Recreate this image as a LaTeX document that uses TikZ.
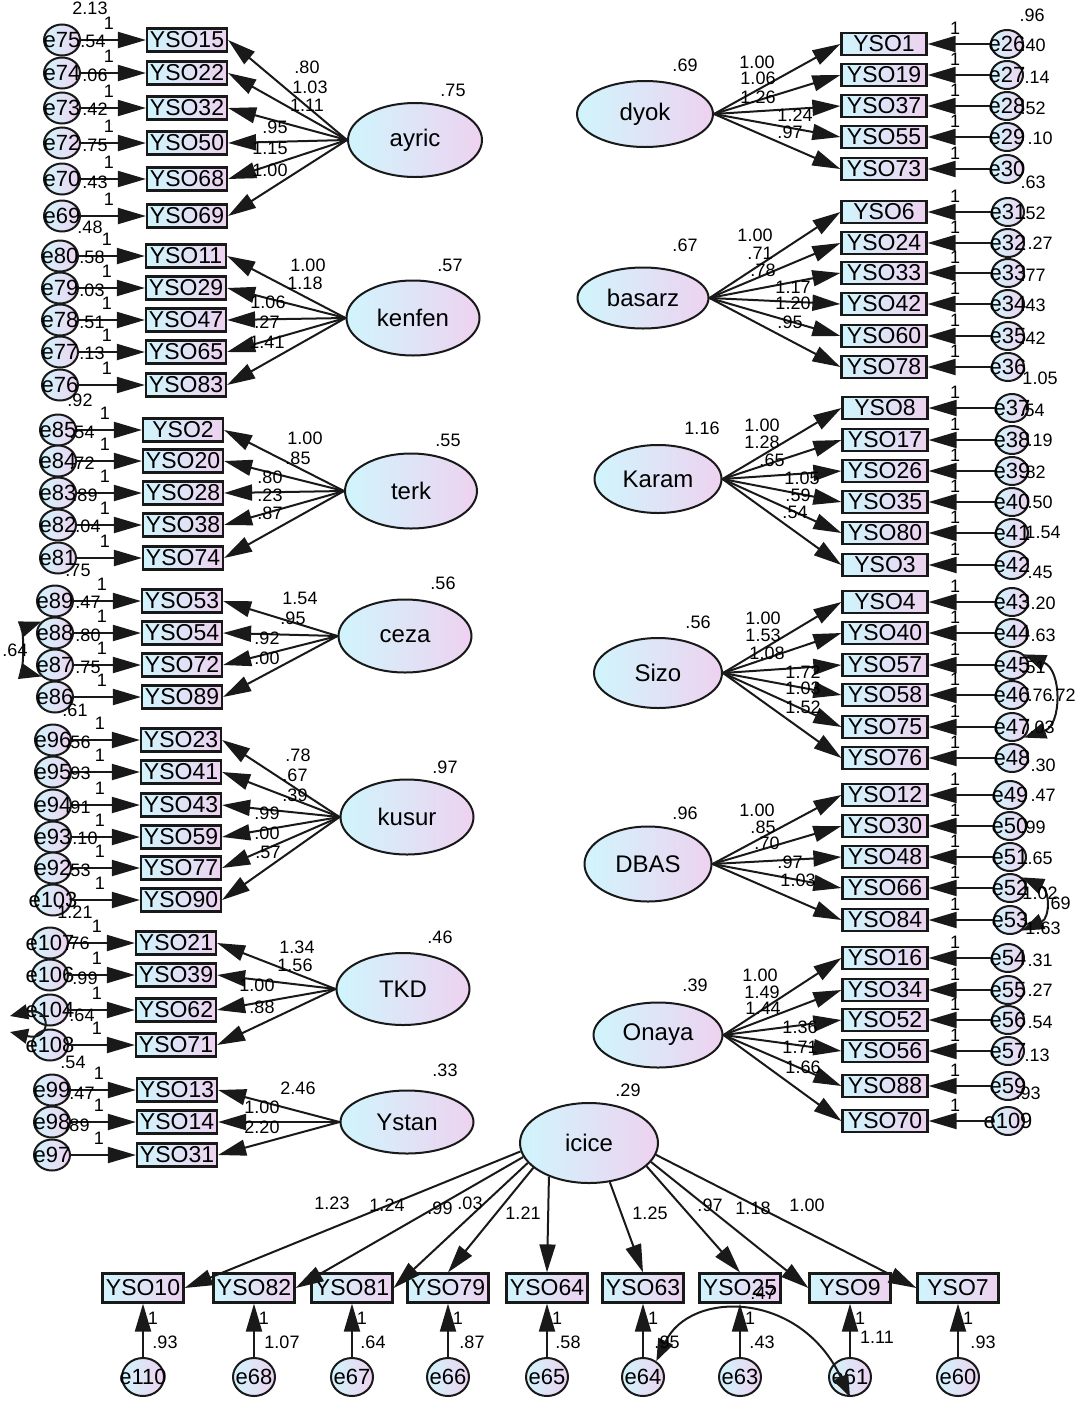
\documentclass[tikz,border=0pt]{standalone}
\usepackage{fontspec}
\setmainfont{Liberation Sans}
\usetikzlibrary{arrows.meta,shapes.geometric}

\definecolor{amoscyan}{RGB}{208,245,252}
\definecolor{amospink}{RGB}{238,210,240}
\definecolor{amosline}{RGB}{25,25,25}

\tikzset{
  obs/.style={draw=amosline, line width=2.2pt, left color=amoscyan, right color=amospink,
    minimum width=80pt, minimum height=23pt, inner sep=0pt, font=\fontsize{23}{23}\selectfont},
  lat/.style={ellipse, draw=amosline, line width=2pt, left color=amoscyan, right color=amospink,
    inner sep=0pt, font=\fontsize{24}{24}\selectfont},
  err/.style={ellipse, draw=amosline, line width=2pt, left color=amoscyan, right color=amospink,
    inner sep=0pt, minimum width=36pt, minimum height=31pt},
  etxt/.style={font=\fontsize{22}{22}\selectfont, inner sep=0pt},
  num/.style={font=\fontsize{18}{18}\selectfont, inner sep=0pt},
  load/.style={draw=amosline, line width=2pt, -{Triangle[length=28pt,width=16pt]}},
  cov/.style={draw=amosline, line width=2pt, {Triangle[length=22pt,width=16pt]}-{Triangle[length=22pt,width=16pt]}},
}

\begin{document}
\begin{tikzpicture}[x=1pt,y=-1pt]
	\useasboundingbox (0,0) rectangle (1086,1403);
	
	% latent variables
	\node[lat, minimum width=134pt, minimum height=74pt] (ayric)  at (415,140)  {ayric};
	\node[lat, minimum width=133pt, minimum height=75pt] (kenfen) at (413,318)  {kenfen};
	\node[lat, minimum width=132pt, minimum height=75pt] (terk)   at (411,491)  {terk};
	\node[lat, minimum width=133pt, minimum height=73pt] (ceza)   at (405,636)  {ceza};
	\node[lat, minimum width=133pt, minimum height=75pt] (kusur)  at (407,817)  {kusur};
	\node[lat, minimum width=133pt, minimum height=72pt] (TKD)    at (403,989)  {TKD};
	\node[lat, minimum width=133pt, minimum height=63pt] (Ystan)  at (407,1122) {Ystan};
	\node[lat, minimum width=136pt, minimum height=66pt] (dyok)   at (645,114)  {dyok};
	\node[lat, minimum width=131pt, minimum height=61pt] (basarz) at (643,298)  {basarz};
	\node[lat, minimum width=127pt, minimum height=68pt] (Karam)  at (658,479)  {Karam};
	\node[lat, minimum width=128pt, minimum height=70pt] (Sizo)   at (658,673)  {Sizo};
	\node[lat, minimum width=127pt, minimum height=75pt] (DBAS)   at (648,864)  {DBAS};
	\node[lat, minimum width=129pt, minimum height=65pt] (Onaya)  at (658,1035) {Onaya};
	\node[lat, minimum width=138pt, minimum height=80pt] (icice)  at (589,1143) {icice};
	
	% left column: latent -> item <- error
	\foreach \lat/\bx/\ex/\rows in {
		ayric/187/62/{40/15/75,73/22/74,108/32/73,143/50/72,179/68/70,216/69/69},
		kenfen/186/60/{256/11/80,288/29/79,320/47/78,352/65/77,385/83/76},
		terk/183/58/{430/2/85,461/20/84,493/28/83,525/38/82,558/74/81},
		ceza/182/55/{601/53/89,633/54/88,665/72/87,697/89/86},
		kusur/181/53/{740/23/96,772/41/95,805/43/94,837/59/93,868/77/92,900/90/103},
		TKD/176/50/{943/21/107,975/39/106,1010/62/104,1045/71/108},
		Ystan/177/52/{1090/13/99,1122/14/98,1155/31/97}}{
		\foreach \y/\v/\e in \rows{
			\node[obs] (YSO\v) at (\bx,\y) {YSO\v};
			\node[err, label={[etxt]center:e\e}] (e\e) at (\ex,\y) {};
			\node[num] (one\e) at ({\ex+47},{\y-17}) {1};
			\draw[load] (e\e) -- (YSO\v);
			\draw[load] (\lat.west) -- (YSO\v.east);
		}
	}
	
	% right column: latent -> item <- error
	\foreach \lat/\bx/\ex/\rows in {
		dyok/884/1007/{44/1/26,75/19/27,106/37/28,137/55/29,169/73/30},
		basarz/884/1008/{212/6/31,243/24/32,273/33/33,304/42/34,336/60/35,367/78/36},
		Karam/885/1012/{408/8/37,440/17/38,471/26/39,502/35/40,533/80/41,565/3/42},
		Sizo/885/1012/{602/4/43,633/40/44,665/57/45,695/58/46,727/75/47,758/76/48},
		DBAS/885/1010/{795/12/49,826/30/50,857/48/51,888/66/52,920/84/53},
		Onaya/885/1008/{958/16/54,990/34/55,1020/52/56,1051/56/57,1086/88/59,1121/70/109}}{
		\foreach \y/\v/\e in \rows{
			\node[obs, minimum width=85pt, minimum height=22pt] (YSO\v) at (\bx,\y) {YSO\v};
			\node[err, minimum width=32pt, minimum height=28pt, label={[etxt]center:e\e}] (e\e) at (\ex,\y) {};
			\node[num] (one\e) at (955,{\y-16}) {1};
			\draw[load] (e\e) -- (YSO\v);
			\draw[load] (\lat.east) -- (YSO\v.west);
		}
	}
	
	% bottom row: icice items
	\foreach \x/\v/\e in {143/10/110,254/82/68,352/81/67,448/79/66,547/64/65,643/63/64,740/25/63,850/9/61,958/7/60}{
		\node[obs, minimum width=81pt, minimum height=29pt] (YSO\v) at (\x,1288) {YSO\v};
		\node[err, minimum width=42pt, minimum height=38pt, label={[etxt]center:e\e}] (e\e) at (\x,1377) {};
		\node[num] (one\e) at ({\x+10},1318) {1};
		\draw[load] (e\e) -- (YSO\v);
	}
	\foreach \v/\a/\s in {10/187/east,82/192/east,81/198/east,79/204/north,64/220/north,63/298/north,25/338/north,9/343/west,7/350/west}
		\draw[load] (icice.\a) -- (YSO\v.\s);
	
	% covariances
	\draw[cov] (e88.140) .. controls (24,628) and (24,672) .. (e87.220);
	\coordinate (tkdA) at (10,1016);
	\coordinate (tkdB) at (10,1032);
	\draw[draw=amosline, line width=2pt, {Triangle[length=18pt,width=15pt]}-{Triangle[length=18pt,width=15pt]}]
		(tkdA) .. controls (52,1006) and (52,1042) .. (tkdB);
	\draw[cov] (e45.north east) .. controls (1062,670) and (1062,725) .. (e47.south east);
	\draw[cov] (e52.north east) .. controls (1050,890) and (1050,918) .. (e53.south east);
	\draw[cov] (e64.50) .. controls (690,1290) and (800,1290) .. (e61.south);
	
	% estimates
	\foreach \x/\y/\t [count=\i] in {
		307/67/.80, 310/87/1.03, 307/105/1.11, 275/127/.95, 270/148/1.15, 270/170/1.00, 453/90/.75,
		308/265/1.00, 305/283/1.18, 268/302/1.06, 267/322/.27, 267/342/1.41, 450/265/.57,
		305/438/1.00, 298/458/.85, 270/477/.80, 270/495/.23, 270/513/.87, 448/440/.55,
		300/598/1.54, 293/618/.95, 267/638/.92, 267/658/.00, 443/583/.56,
		298/755/.78, 295/775/.67, 295/795/.39, 267/813/.99, 267/833/.00, 268/852/.57, 445/767/.97,
		297/947/1.34, 295/965/1.56, 257/985/1.00, 262/1007/.88, 440/937/.46,
		298/1088/2.46, 262/1107/1.00, 262/1127/2.20, 445/1070/.33,
		90/8/2.13, 93/41/.54, 95/75/.06, 95/109/.42, 95/145/.75, 95/182/.43, 90/227/.48,
		92/257/.58, 92/290/.03, 92/322/.51, 92/353/.13, 80/400/.92,
		82/432/.54, 82/463/.72, 85/495/.89, 88/526/.04, 78/570/.75,
		88/602/.47, 88/635/.80, 88/667/.75, 75/710/.61, 15/650/.64,
		78/742/.56, 78/773/.93, 78/807/.91, 85/838/.10, 78/870/.53, 75/912/1.21,
		77/943/.76, 85/978/.99, 82/1015/.64, 73/1062/.54,
		82/1093/.47, 77/1125/.89,
		757/62/1.00, 758/78/1.06, 758/97/1.26, 795/115/1.24, 790/132/.97, 685/65/.69,
		755/235/1.00, 760/253/.71, 763/270/.78, 793/287/1.17, 793/303/1.20, 790/322/.95, 685/245/.67,
		762/425/1.00, 762/442/1.28, 772/460/.65, 802/478/1.05, 798/495/.59, 795/512/.54, 702/428/1.16,
		763/618/1.00, 763/635/1.53, 767/653/1.08, 803/672/1.72, 803/688/1.03, 803/707/1.52, 698/622/.56,
		757/810/1.00, 763/827/.85, 767/843/.70, 790/862/.97, 798/880/1.03, 685/813/.96,
		760/975/1.00, 762/992/1.49, 763/1008/1.44, 800/1027/1.36, 800/1047/1.71, 803/1067/1.66, 695/985/.39,
		1032/15/.96, 1033/45/.40, 1037/77/.14, 1033/108/.52, 1040/138/.10, 1033/182/.63,
		1033/213/.52, 1040/243/.27, 1033/275/.77, 1033/305/.43, 1033/338/.42, 1040/378/1.05,
		1032/410/.54, 1040/440/.19, 1033/472/.82, 1040/502/.50, 1043/532/1.54, 1040/572/.45,
		1043/603/.20, 1043/635/.63, 1033/667/.51, 1040/695/.76, 1063/695/.72, 1042/727/.03, 1043/765/.30,
		1043/795/.47, 1033/827/.99, 1040/858/.65, 1040/893/1.02, 1058/903/.69, 1043/928/1.63,
		1040/960/.31, 1040/990/.27, 1040/1022/.54, 1037/1055/.13, 1028/1093/.93,
		628/1090/.29, 332/1203/1.23, 387/1205/1.24, 440/1208/.99, 470/1203/.03, 523/1213/1.21,
		650/1213/1.25, 710/1205/.97, 753/1208/1.18, 807/1205/1.00,
		165/1342/.93, 282/1342/1.07, 373/1342/.64, 472/1342/.87, 568/1342/.58, 667/1342/.95,
		762/1342/.43, 877/1337/1.11, 983/1342/.93, 763/1293/.47}
		\node[num] (est\i) at (\x,\y) {\t};
	
\end{tikzpicture}
\end{document}
